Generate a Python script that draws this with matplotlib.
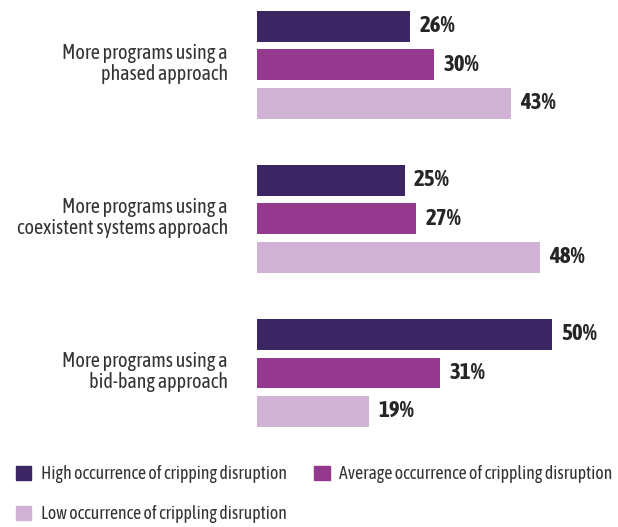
import numpy as np
import matplotlib.pyplot as plt
from matplotlib.patches import Patch

plt.rcParams['font.family'] = ['Asap Condensed', 'DejaVu Sans']

# data
categories = ["More programs using a\nphased approach",
              "More programs using a\ncoexistent systems approach",
              "More programs using a\nbid-bang approach"]
series_names = ["High occurrence of cripping disruption",
                "Average occurrence of crippling disruption",
                "Low occurrence of crippling disruption"]
high = [26, 25, 50]
average = [30, 27, 31]
low = [43, 48, 19]
colors = ["#3b2562", "#95398f", "#d0b3d4"]

fig = plt.figure(figsize=(6.18, 5.27), dpi=100)
ax = fig.add_axes([257 / 618, 1 - 440 / 527, 354 / 618, 440 / 527])

y = np.arange(len(categories))
offsets = [-0.25, 0.0, 0.25]
for vals, off, c in zip([high, average, low], offsets, colors):
    bars = ax.barh(y + off, vals, height=0.2, color=c)
    for b, v in zip(bars, vals):
        ax.text(b.get_width() + 1.6, b.get_y() + b.get_height() / 2, f"{v}%",
                va='center', ha='left', fontsize=16.5, fontweight='bold',
                color='#262626')

ax.set_xlim(0, 60)
ax.set_ylim(2.435, -0.42)
ax.set_yticks(y - 0.025)
ax.set_yticklabels(categories, fontsize=14.5, color='#333333', linespacing=1.05)
ax.tick_params(axis='y', length=0, pad=21)
ax.set_xticks([])
for s in ax.spines.values():
    s.set_visible(False)

# column-major fill: High, Low in col 1; Average in col 2
handles = [Patch(color=colors[i], label=series_names[i]) for i in (0, 2, 1)]
fig.legend(handles=handles, loc='upper left', bbox_to_anchor=(16 / 618, 1 - 465 / 527),
           ncol=2, frameon=False, fontsize=12.8, handlelength=0.85, handleheight=0.85,
           handletextpad=0.55, columnspacing=1.55, labelspacing=1.25,
           labelcolor='#333333', borderaxespad=0, borderpad=0)

fig.savefig("out.png", dpi=100)
